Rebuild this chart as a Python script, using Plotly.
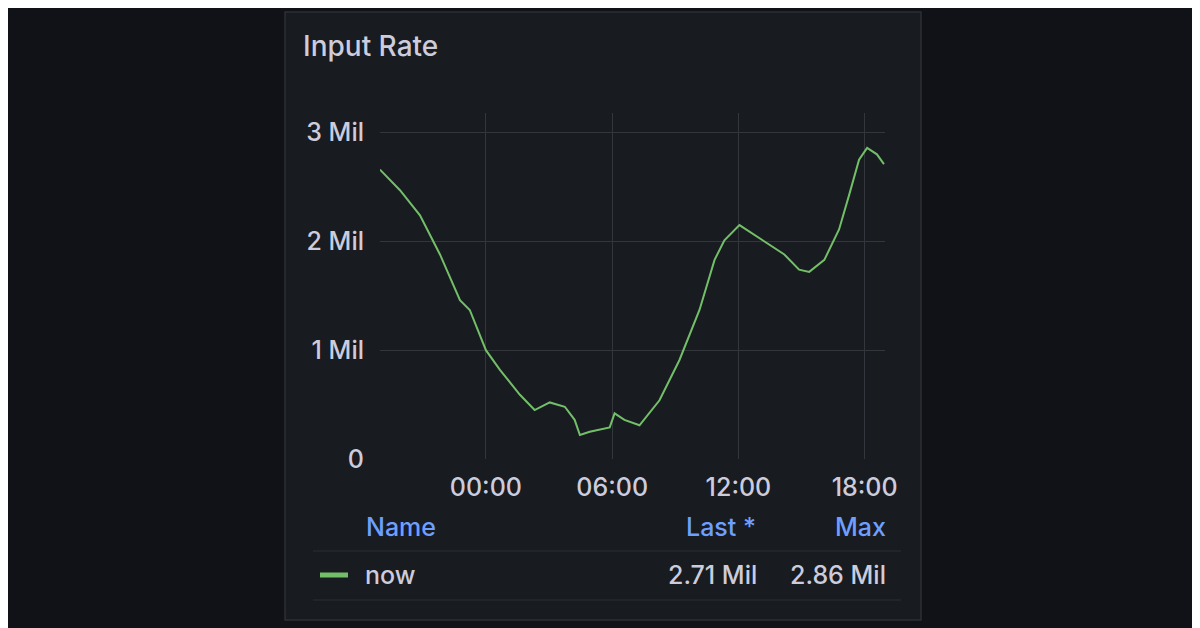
import plotly.graph_objects as go

times = ["2024-01-01 18:58","2024-01-01 19:55","2024-01-01 20:52","2024-01-01 21:49","2024-01-01 22:46",
         "2024-01-01 23:14","2024-01-02 00:00","2024-01-02 00:40","2024-01-02 01:37","2024-01-02 02:19",
         "2024-01-02 03:02","2024-01-02 03:45","2024-01-02 04:13","2024-01-02 04:28","2024-01-02 04:56",
         "2024-01-02 05:24","2024-01-02 05:53","2024-01-02 06:07","2024-01-02 06:35","2024-01-02 07:18",
         "2024-01-02 08:15","2024-01-02 09:12","2024-01-02 10:09","2024-01-02 10:52","2024-01-02 11:20",
         "2024-01-02 12:03","2024-01-02 12:46","2024-01-02 13:28","2024-01-02 14:11","2024-01-02 14:53",
         "2024-01-02 15:22","2024-01-02 16:05","2024-01-02 16:47","2024-01-02 17:16","2024-01-02 17:44",
         "2024-01-02 18:07","2024-01-02 18:35","2024-01-02 18:55"]
values = [2.66,2.47,2.24,1.88,1.46,1.37,1.0,0.82,0.59,0.45,0.52,0.48,0.36,0.22,0.25,0.27,0.29,0.42,0.36,0.31,
          0.54,0.91,1.37,1.83,2.01,2.15,2.06,1.97,1.88,1.74,1.72,1.83,2.11,2.43,2.75,2.86,2.80,2.71]
values = [v * 1e6 for v in values]
ytick_vals = [0, 1e6, 2e6, 3e6]
ytick_text = ["0", "1 Mil", "2 Mil", "3 Mil"]
xtick_vals = ["2024-01-02 00:00","2024-01-02 06:00","2024-01-02 12:00","2024-01-02 18:00"]
xtick_text = ["00:00", "06:00", "12:00", "18:00"]
series_name = "now"
last_val = "2.71 Mil"
max_val = "2.86 Mil"

OFF = 8  # page offset of the figure
L, R, T, B = 380 - OFF, 885 - OFF, 113 - OFF, 459 - OFF
def px(x): return (x - OFF - L) / (R - L)
def py(y): return (B - (y - OFF)) / (B - T)

TXT = "#ccccdc"
BLUE = "#6e9fff"
GREEN = "#73bf69"
FONT = "Inter"

fig = go.Figure(go.Scatter(x=times, y=values, mode="lines", line=dict(color=GREEN, width=2),
                           hoverinfo="skip", showlegend=False))

shapes = [
    dict(type="rect", xref="paper", yref="paper", x0=px(285), x1=px(921), y0=py(620), y1=py(12),
         fillcolor="#181b1f", line=dict(color="#2c2f35", width=1.5), layer="below"),
    dict(type="line", xref="paper", yref="paper", x0=px(313), x1=px(901), y0=py(551), y1=py(551),
         line=dict(color="#2c2f35", width=1.2)),
    dict(type="line", xref="paper", yref="paper", x0=px(313), x1=px(901), y0=py(600), y1=py(600),
         line=dict(color="#2c2f35", width=1.2)),
    dict(type="line", xref="paper", yref="paper", x0=px(320), x1=px(348), y0=py(575), y1=py(575),
         line=dict(color=GREEN, width=5)),
]
ann = []
def text(x, y, s, color=TXT, size=25, anchor="left"):
    ann.append(dict(xref="paper", yref="paper", x=px(x), y=py(y), text=s, showarrow=False,
                    xanchor=anchor, yanchor="middle",
                    font=dict(color=color, size=size, family=FONT, weight=500)))
text(301, 46, "Input Rate", size=28)
text(364, 527, "Name", color=BLUE)
text(758, 527, "Last *", color=BLUE, anchor="right")
text(888, 527, "Max", color=BLUE, anchor="right")
text(363, 575, series_name)
text(759, 575, last_val, anchor="right")
text(888, 575, max_val, anchor="right")

tf = dict(size=25, weight=500)
fig.update_layout(
    width=1200, height=628, paper_bgcolor="#111217", plot_bgcolor="rgba(0,0,0,0)",
    margin=dict(l=L, r=1200 - R, t=T, b=628 - B),
    shapes=shapes, annotations=ann,
    font=dict(family=FONT, color=TXT, size=25),
    xaxis=dict(range=["2024-01-01 18:58", "2024-01-02 18:58"], tickvals=xtick_vals, ticktext=xtick_text,
               showgrid=True, gridcolor="#33363c", zeroline=False, showline=False, ticks="outside",
               ticklen=6, tickcolor="rgba(0,0,0,0)", tickfont=tf),
    yaxis=dict(range=[0, 3.18e6], tickvals=ytick_vals, ticktext=ytick_text, showgrid=True,
               gridcolor="#33363c", zeroline=False, showline=False, ticks="outside", ticklen=10,
               tickcolor="rgba(0,0,0,0)", tickfont=tf),
)
fig.write_html("out.html")
